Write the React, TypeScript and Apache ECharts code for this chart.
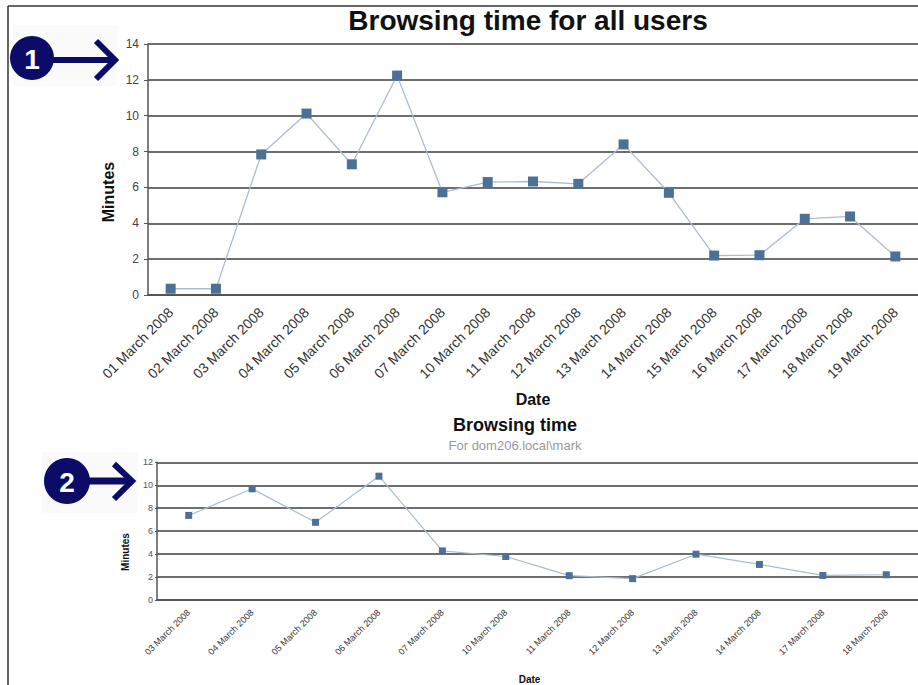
import React, { useEffect, useRef } from "react";
import * as echarts from "echarts";

const topDates = [
  "01 March 2008", "02 March 2008", "03 March 2008", "04 March 2008", "05 March 2008",
  "06 March 2008", "07 March 2008", "10 March 2008", "11 March 2008", "12 March 2008",
  "13 March 2008", "14 March 2008", "15 March 2008", "16 March 2008", "17 March 2008",
  "18 March 2008", "19 March 2008",
];
const topMinutes = [0.35, 0.35, 7.84, 10.12, 7.29, 12.24, 5.73, 6.3, 6.33, 6.2, 8.4, 5.7, 2.2, 2.22, 4.25, 4.38, 2.15];

const bottomDates = [
  "03 March 2008", "04 March 2008", "05 March 2008", "06 March 2008", "07 March 2008",
  "10 March 2008", "11 March 2008", "12 March 2008", "13 March 2008", "14 March 2008",
  "17 March 2008", "18 March 2008",
];
const bottomMinutes = [7.37, 9.69, 6.77, 10.79, 4.28, 3.79, 2.12, 1.86, 3.99, 3.1, 2.14, 2.2];

const topTicks = { min: 0, max: 14, interval: 2 };
const bottomTicks = { min: 0, max: 12, interval: 2 };

const FONT = "'Liberation Sans', Arial, sans-serif";
const NAVY = "#0c0c68";

export default function App() {
  const ref = useRef<HTMLDivElement>(null);
  useEffect(() => {
    const chart = echarts.init(ref.current!, null, { renderer: "svg" });
    const gridLine = { color: "#6e6e6e", width: 2 };
    const axisLine = { show: true, lineStyle: { color: "#555", width: 2 } };
    chart.setOption({
      animation: false,
      backgroundColor: "#fff",
      title: [
        {
          text: "Browsing time for all users",
          left: 523,
          top: 1,
          textAlign: "center",
          textStyle: { fontFamily: FONT, fontWeight: "bold", fontSize: 28, color: "#111" },
        },
        {
          text: "Browsing time",
          subtext: "For dom206.local\\mark",
          left: 510,
          top: 411,
          textAlign: "center",
          itemGap: 5,
          textStyle: { fontFamily: FONT, fontWeight: "bold", fontSize: 18, color: "#111" },
          subtextStyle: { fontFamily: FONT, fontSize: 13, color: "#999" },
        },
      ],
      grid: [
        { left: 148, top: 44, width: 773.5, height: 251 },
        { left: 157, top: 462.3, width: 770.4, height: 138.4 },
      ],
      xAxis: [
        {
          type: "category",
          gridIndex: 0,
          data: topDates,
          boundaryGap: true,
          axisLine,
          axisTick: { show: false },
          axisLabel: { interval: 0, rotate: 45, fontFamily: FONT, fontSize: 14, color: "#333", margin: 15 },
          name: "Date",
          nameLocation: "middle",
          nameGap: 96,
          nameTextStyle: { fontFamily: FONT, fontWeight: "bold", fontSize: 16, color: "#111" },
        },
        {
          type: "category",
          gridIndex: 1,
          data: bottomDates,
          boundaryGap: true,
          axisLine,
          axisTick: { show: false },
          axisLabel: { interval: 0, rotate: 45, fontFamily: FONT, fontSize: 9, color: "#333", margin: 11 },
          name: "Date",
          nameLocation: "middle",
          nameGap: 74,
          nameTextStyle: { fontFamily: FONT, fontWeight: "bold", fontSize: 10, color: "#111", padding: [0, 16, 0, 0] },
        },
      ],
      yAxis: [
        {
          type: "value",
          gridIndex: 0,
          ...topTicks,
          axisLine: { show: true, lineStyle: { color: "#555", width: 1.5 } },
          axisTick: { show: true, length: 4, lineStyle: { color: "#555" } },
          axisLabel: { fontFamily: FONT, fontSize: 12, color: "#444", margin: 9 },
          splitLine: { show: true, lineStyle: gridLine },
        },
        {
          type: "value",
          gridIndex: 1,
          ...bottomTicks,
          axisLine: { show: true, lineStyle: { color: "#555", width: 1.5 } },
          axisTick: { show: true, length: 2, lineStyle: { color: "#555" } },
          axisLabel: { fontFamily: FONT, fontSize: 9, color: "#555", margin: 4 },
          splitLine: { show: true, lineStyle: gridLine },
        },
      ],
      series: [
        {
          type: "line",
          xAxisIndex: 0,
          yAxisIndex: 0,
          data: topMinutes,
          symbol: "rect",
          symbolSize: 10,
          lineStyle: { color: "#a9bdd2", width: 1.3 },
          itemStyle: { color: "#4d7196" },
        },
        {
          type: "line",
          xAxisIndex: 1,
          yAxisIndex: 1,
          data: bottomMinutes,
          symbol: "rect",
          symbolSize: 7,
          lineStyle: { color: "#a9bdd2", width: 1.2 },
          itemStyle: { color: "#4d7196" },
        },
      ],
      graphic: [
        { type: "line", shape: { x1: 8, y1: 6, x2: 918, y2: 6 }, style: { stroke: "#333", lineWidth: 1.5 } },
        { type: "line", shape: { x1: 8, y1: 6, x2: 8, y2: 685 }, style: { stroke: "#333", lineWidth: 1.5 } },
        { type: "rect", shape: { x: 13, y: 25, width: 104, height: 61 }, style: { fill: "#fafafa" }, z: -1 },
        { type: "rect", shape: { x: 42, y: 452, width: 96, height: 61 }, style: { fill: "#fafafa" }, z: -1 },
        { type: "circle", shape: { cx: 32, cy: 58, r: 22 }, style: { fill: NAVY } },
        {
          type: "text",
          x: 32,
          y: 59,
          style: { text: "1", fill: "#fff", font: `bold 28px ${FONT}`, textAlign: "center", textVerticalAlign: "middle" },
        },
        { type: "line", shape: { x1: 53, y1: 60, x2: 112, y2: 60 }, style: { stroke: NAVY, lineWidth: 6 } },
        { type: "polyline", shape: { points: [[96, 41], [115, 60], [96, 79]] }, style: { stroke: NAVY, lineWidth: 6, fill: "none" } },
        { type: "circle", shape: { cx: 67, cy: 481, r: 23 }, style: { fill: NAVY } },
        {
          type: "text",
          x: 67,
          y: 482,
          style: { text: "2", fill: "#fff", font: `bold 28px ${FONT}`, textAlign: "center", textVerticalAlign: "middle" },
        },
        { type: "line", shape: { x1: 88, y1: 481, x2: 130, y2: 481 }, style: { stroke: NAVY, lineWidth: 7 } },
        { type: "polyline", shape: { points: [[114, 464], [132, 481], [114, 499]] }, style: { stroke: NAVY, lineWidth: 6, fill: "none" } },
        {
          type: "text",
          x: 108,
          y: 192,
          rotation: Math.PI / 2,
          style: { text: "Minutes", fill: "#111", font: `bold 16px ${FONT}`, textAlign: "center", textVerticalAlign: "middle" },
        },
        {
          type: "text",
          x: 125,
          y: 552,
          rotation: Math.PI / 2,
          style: { text: "Minutes", fill: "#111", font: `bold 10px ${FONT}`, textAlign: "center", textVerticalAlign: "middle" },
        },
      ],
    });
    return () => chart.dispose();
  }, []);
  return <div ref={ref} style={{ position: "fixed", left: 0, top: 0, width: 918, height: 685 }} />;
}
